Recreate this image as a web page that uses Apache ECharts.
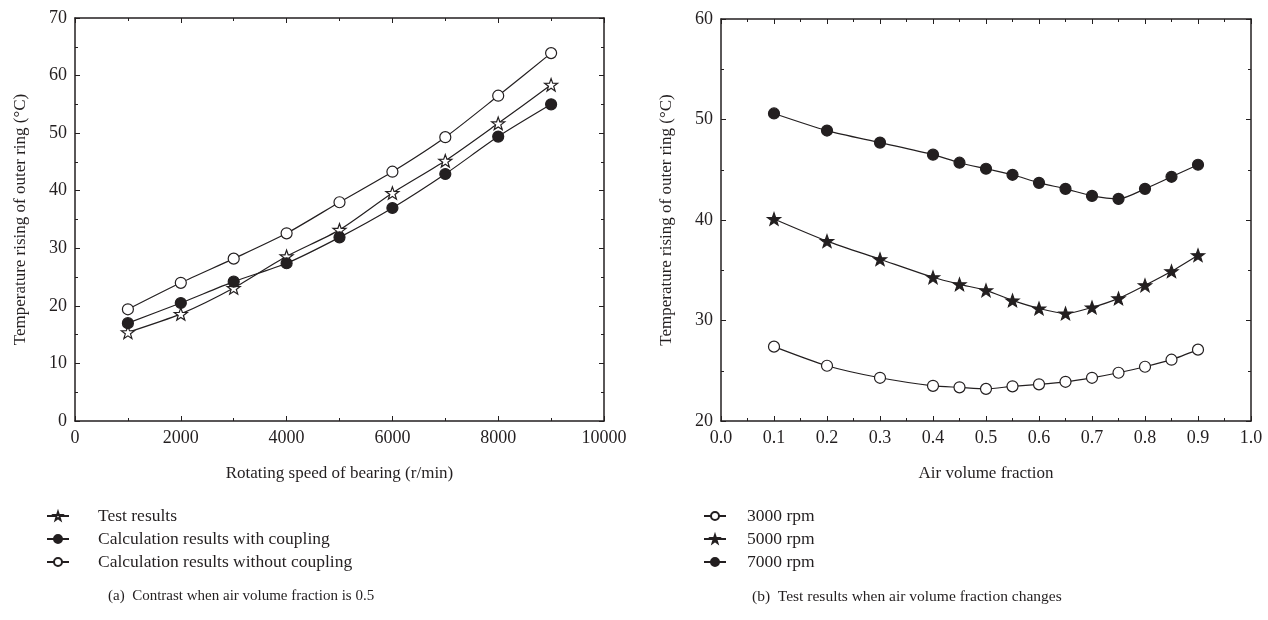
<!DOCTYPE html>
<html>
<head>
<meta charset="utf-8">
<script src="https://cdn.jsdelivr.net/npm/echarts@6/dist/echarts.min.js"></script>
<style>
html,body{margin:0;padding:0;background:#fff;}
#chart{width:1268px;height:620px;}
</style>
</head>
<body>
<div id="chart"></div>
<script>
// ---- data: panel (a) ----
const speeds = [1000, 2000, 3000, 4000, 5000, 6000, 7000, 8000, 9000];
const testResults = [15.4, 18.6, 23.1, 28.6, 33.2, 39.6, 45.2, 51.7, 58.4];
const calcWithCoupling = [17.0, 20.5, 24.2, 27.4, 31.9, 37.0, 42.9, 49.4, 55.0];
const calcWithoutCoupling = [19.4, 24.0, 28.2, 32.6, 38.0, 43.3, 49.3, 56.5, 63.9];

// ---- data: panel (b) ----
const airFraction = [0.1, 0.2, 0.3, 0.4, 0.45, 0.5, 0.55, 0.6, 0.65, 0.7, 0.75, 0.8, 0.85, 0.9];
const rpm3000 = [27.4, 25.5, 24.3, 23.5, 23.35, 23.2, 23.45, 23.65, 23.9, 24.3, 24.8, 25.4, 26.1, 27.1];
const rpm5000 = [40.1, 37.9, 36.1, 34.3, 33.6, 33.0, 32.0, 31.2, 30.7, 31.3, 32.2, 33.5, 34.9, 36.5];
const rpm7000 = [50.6, 48.9, 47.7, 46.5, 45.7, 45.1, 44.5, 43.7, 43.1, 42.4, 42.1, 43.1, 44.3, 45.5];

const seriesNamesA = ['Test results', 'Calculation results with coupling', 'Calculation results without coupling'];
const seriesNamesB = ['3000 rpm', '5000 rpm', '7000 rpm'];
const captionA = '(a)  Contrast when air volume fraction is 0.5';
const captionB = '(b)  Test results when air volume fraction changes';

const FONT = 'Liberation Serif';
const INK = '#231f20';
const STAR = 'path://M0,-10 L2.35,-3.24 L9.51,-3.09 L3.8,1.24 L5.88,8.09 L0,4.2 L-5.88,8.09 L-3.8,1.24 L-9.51,-3.09 L-2.35,-3.24 Z';

function pairs(xs, ys) { return xs.map((x, i) => [x, ys[i]]); }

function mkX(gridIndex, min, max, interval, name, show, fmt) {
  return {
    type: 'value', gridIndex, min, max, interval,
    position: show ? 'bottom' : 'top',
    name: show ? name : '',
    nameLocation: 'middle', nameGap: 44,
    nameTextStyle: { fontFamily: FONT, fontSize: 17, color: INK },
    axisLine: { show: true, onZero: false, lineStyle: { color: INK, width: 1.5 } },
    axisTick: { show: true, inside: true, length: 5, lineStyle: { color: INK, width: 1 } },
    minorTick: { show: true, splitNumber: 2, length: 3, lineStyle: { color: INK, width: 1 } },
    axisLabel: { show: show, fontFamily: FONT, fontSize: 18, color: INK, margin: 8, formatter: fmt },
    splitLine: { show: false }
  };
}
function mkY(gridIndex, min, max, interval, name, show) {
  return {
    type: 'value', gridIndex, min, max, interval,
    position: show ? 'left' : 'right',
    name: show ? name : '',
    nameLocation: 'middle', nameGap: 46, nameRotate: 90,
    nameTextStyle: { fontFamily: FONT, fontSize: 17, color: INK },
    axisLine: { show: true, onZero: false, lineStyle: { color: INK, width: 1.5 } },
    axisTick: { show: true, inside: true, length: 5, lineStyle: { color: INK, width: 1 } },
    minorTick: { show: true, splitNumber: 2, length: 3, lineStyle: { color: INK, width: 1 } },
    axisLabel: { show: show, fontFamily: FONT, fontSize: 18, color: INK, margin: 8 },
    splitLine: { show: false }
  };
}

function line(name, data, xi, yi, symbol, fill, size) {
  return {
    name, type: 'line', data, xAxisIndex: xi, yAxisIndex: yi,
    smooth: 0.25, symbol, symbolSize: size, symbolKeepAspect: true,
    showAllSymbol: true,
    lineStyle: { color: INK, width: 1.2 },
    itemStyle: { color: fill, borderColor: INK, borderWidth: 1.2 },
    emphasis: { disabled: true },
    z: 3
  };
}

const chart = echarts.init(document.getElementById('chart'), null, { renderer: 'canvas' });
chart.setOption({
  backgroundColor: '#fff',
  animation: false,
  textStyle: { fontFamily: FONT },
  grid: [
    { left: 75, right: 664, top: 18, bottom: 199 },
    { left: 721, right: 17, top: 19, bottom: 199 }
  ],
  xAxis: [
    mkX(0, 0, 10000, 2000, 'Rotating speed of bearing (r/min)', true, v => String(v)),
    mkX(0, 0, 10000, 2000, '', false),
    mkX(1, 0, 1, 0.1, 'Air volume fraction', true, v => v.toFixed(1)),
    mkX(1, 0, 1, 0.1, '', false)
  ],
  yAxis: [
    mkY(0, 0, 70, 10, 'Temperature rising of outer ring (\u00B0C)', true),
    mkY(0, 0, 70, 10, '', false),
    mkY(1, 20, 60, 10, 'Temperature rising of outer ring (\u00B0C)', true),
    mkY(1, 20, 60, 10, '', false)
  ],
  legend: [
    {
      data: seriesNamesA, orient: 'vertical', left: 46, top: 507, padding: 0,
      itemWidth: 22, itemHeight: 10, itemGap: 5,
      textStyle: { fontFamily: FONT, fontSize: 17.5, color: INK, padding: [0, 0, 0, 24] },
      selectedMode: false
    },
    {
      data: seriesNamesB, orient: 'vertical', left: 703, top: 507, padding: 0,
      itemWidth: 22, itemHeight: 10, itemGap: 5,
      textStyle: { fontFamily: FONT, fontSize: 17.5, color: INK, padding: [0, 0, 0, 16] },
      selectedMode: false
    }
  ],
  graphic: [
    { type: 'text', left: 108, top: 589, style: { text: captionA, font: '15px "Liberation Serif"', fill: INK } },
    { type: 'text', left: 752, top: 589, style: { text: captionB, font: '15.5px "Liberation Serif"', fill: INK } }
  ],
  series: [
    line(seriesNamesA[0], pairs(speeds, testResults), 0, 0, STAR, '#fff', 13),
    line(seriesNamesA[1], pairs(speeds, calcWithCoupling), 0, 0, 'circle', INK, 11),
    line(seriesNamesA[2], pairs(speeds, calcWithoutCoupling), 0, 0, 'circle', '#fff', 11),
    line(seriesNamesB[0], pairs(airFraction, rpm3000), 2, 2, 'circle', '#fff', 11),
    line(seriesNamesB[1], pairs(airFraction, rpm5000), 2, 2, STAR, INK, 13),
    line(seriesNamesB[2], pairs(airFraction, rpm7000), 2, 2, 'circle', INK, 11)
  ]
});
</script>
</body>
</html>
